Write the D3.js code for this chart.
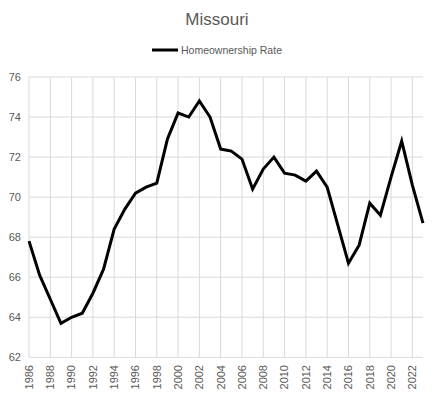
<!DOCTYPE html>
<html><head><meta charset="utf-8">
<script src="https://cdn.jsdelivr.net/npm/d3@7"></script>
<style>body{margin:0;background:#fff}svg{display:block}</style>
</head><body>
<script>
const years = [1986,1987,1988,1989,1990,1991,1992,1993,1994,1995,1996,1997,1998,1999,2000,2001,2002,2003,2004,2005,2006,2007,2008,2009,2010,2011,2012,2013,2014,2015,2016,2017,2018,2019,2020,2021,2022,2023];
const rates = [67.8,66.1,64.9,63.7,64.0,64.2,65.2,66.4,68.4,69.4,70.2,70.5,70.7,72.9,74.2,74.0,74.8,74.0,72.4,72.3,71.9,70.4,71.4,72.0,71.2,71.1,70.8,71.3,70.5,68.6,66.7,67.6,69.7,69.1,71.0,72.8,70.6,68.7];
const xTicks = [1986,1988,1990,1992,1994,1996,1998,2000,2002,2004,2006,2008,2010,2012,2014,2016,2018,2020,2022];
const yTicks = [62,64,66,68,70,72,74,76];
const title = "Missouri";
const seriesName = "Homeownership Rate";

const W = 434, H = 398;
const svg = d3.select("body").append("svg").attr("width", W).attr("height", H);
const font = "'Liberation Sans', Arial, sans-serif";
const x = d3.scaleLinear().domain([1986, 2023]).range([29, 423]);
const y = d3.scaleLinear().domain([62, 76]).range([357.3, 77]);

// gridlines
svg.append("g").selectAll("line.h").data(yTicks).join("line")
  .attr("x1", 29).attr("x2", 423).attr("y1", d => y(d)).attr("y2", d => y(d))
  .attr("stroke", "#d9d9d9").attr("stroke-width", 1);
svg.append("g").selectAll("line.v").data(xTicks).join("line")
  .attr("x1", d => x(d)).attr("x2", d => x(d)).attr("y1", y(76)).attr("y2", y(62))
  .attr("stroke", "#d9d9d9").attr("stroke-width", 1);

// y axis labels
svg.append("g").selectAll("text").data(yTicks).join("text")
  .attr("x", 21).attr("y", d => y(d)).attr("dy", "0.35em")
  .attr("text-anchor", "end").attr("font-family", font).attr("font-size", 11)
  .attr("fill", "#595959").text(d => d);

// x axis labels rotated
svg.append("g").selectAll("text").data(xTicks).join("text")
  .attr("transform", d => `translate(${x(d)},365) rotate(-90)`)
  .attr("dy", "0.35em").attr("text-anchor", "end")
  .attr("font-family", font).attr("font-size", 11).attr("fill", "#595959").text(d => d);

// line
const line = d3.line().x((d, i) => x(years[i])).y(d => y(d));
svg.append("path").datum(rates).attr("d", line)
  .attr("fill", "none").attr("stroke", "#000").attr("stroke-width", 3)
  .attr("stroke-linejoin", "miter");

// title
svg.append("text").attr("x", 217).attr("y", 25).attr("text-anchor", "middle")
  .attr("font-family", font).attr("font-size", 17).attr("fill", "#595959").text(title);

// legend
svg.append("line").attr("x1", 152).attr("x2", 178).attr("y1", 50).attr("y2", 50)
  .attr("stroke", "#000").attr("stroke-width", 3);
svg.append("text").attr("x", 181).attr("y", 50).attr("dy", "0.35em")
  .attr("font-family", font).attr("font-size", 10.5).attr("fill", "#595959").text(seriesName);
</script>
</body></html>
